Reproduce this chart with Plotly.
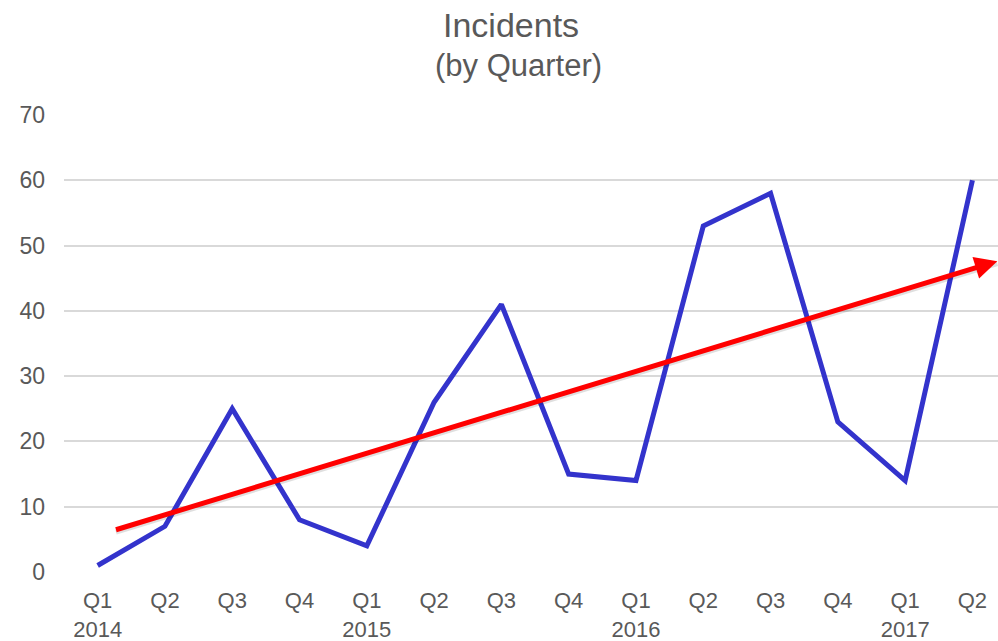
import plotly.graph_objects as go

quarters = ["Q1", "Q2", "Q3", "Q4", "Q1", "Q2", "Q3", "Q4", "Q1", "Q2", "Q3", "Q4", "Q1", "Q2"]
years = ["2014", "", "", "", "2015", "", "", "", "2016", "", "", "", "2017", ""]
incidents = [1, 7, 25, 8, 4, 26, 41, 15, 14, 53, 58, 23, 14, 60]
trend_x = [0.25, 13.37]
trend_y = [6.4, 47.6]
y_ticks = [0, 10, 20, 30, 40, 50, 60, 70]

x_idx = list(range(len(quarters)))
ticktext = [q + ("<br>" + y if y else "") for q, y in zip(quarters, years)]

gray = "#595959"
font = "Liberation Sans, Arial, sans-serif"

fig = go.Figure()
fig.add_trace(go.Scatter(x=x_idx, y=incidents, mode="lines",
                         line=dict(color="#3333CC", width=5), hoverinfo="skip"))

# trend shadow
fig.add_annotation(x=trend_x[1], y=trend_y[1] - 0.35, ax=trend_x[0], ay=trend_y[0] - 0.35,
                   xref="x", yref="y", axref="x", ayref="y", showarrow=True,
                   arrowcolor="rgba(0,0,0,0.12)", arrowwidth=5, arrowhead=0, text="")
fig.add_annotation(x=trend_x[1], y=trend_y[1], ax=trend_x[0], ay=trend_y[0],
                   xref="x", yref="y", axref="x", ayref="y", showarrow=True,
                   arrowcolor="#FF0000", arrowwidth=5, arrowhead=2, arrowsize=0.9, text="")

fig.add_annotation(text="Incidents", xref="paper", yref="paper", x=(511 - 64) / 934, y=(572 - 25) / 457,
                   showarrow=False, font=dict(size=34, color=gray, family=font), yanchor="middle")
fig.add_annotation(text="(by Quarter)", xref="paper", yref="paper", x=(518 - 64) / 934, y=(572 - 65) / 457,
                   showarrow=False, font=dict(size=31, color=gray, family=font), yanchor="middle")

fig.update_layout(
    width=998, height=641,
    margin=dict(l=64, r=0, t=115, b=69),
    paper_bgcolor="white", plot_bgcolor="white",
    showlegend=False,
    font=dict(family=font, color=gray, size=22),
)
fig.update_xaxes(range=[-0.5, 13.38], tickmode="array", tickvals=x_idx, ticktext=ticktext,
                 showgrid=False, zeroline=False, showline=False, ticks="", automargin=False,
                 tickfont=dict(size=22, color=gray), ticklabelstandoff=13)
fig.update_yaxes(range=[0, 70], tickvals=y_ticks, showgrid=True, gridcolor="#D9D9D9", gridwidth=2,
                 zeroline=False, showline=False, ticks="", automargin=False,
                 tickfont=dict(size=23, color=gray), ticklabelstandoff=18)

fig.write_html("out.html")
